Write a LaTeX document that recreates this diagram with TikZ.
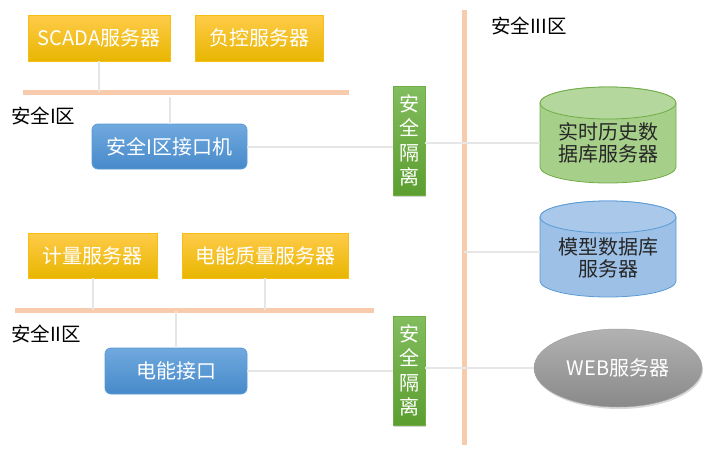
\documentclass[tikz,border=0pt]{standalone}
\usepackage{fontspec}
\setmainfont{Noto Sans CJK SC}
\usetikzlibrary{shapes.geometric,shadows}
\definecolor{ytop}{HTML}{FFCB4A}
\definecolor{ybot}{HTML}{E8B600}
\definecolor{ybord}{HTML}{F5BE10}
\definecolor{btop}{HTML}{70A9DE}
\definecolor{bbot}{HTML}{478ACA}
\definecolor{bbord}{HTML}{5B9BD5}
\definecolor{gtop}{HTML}{82BD5E}
\definecolor{gbot}{HTML}{5C9E30}
\definecolor{gbord}{HTML}{70AD47}
\definecolor{dgfill}{HTML}{A6CF8A}
\definecolor{dgtop}{HTML}{B4D79D}
\definecolor{dbfill}{HTML}{9CC0E6}
\definecolor{dbtop}{HTML}{AAC9EA}
\definecolor{wtop}{HTML}{B2B2B2}
\definecolor{wbot}{HTML}{898989}
\definecolor{barc}{HTML}{F8CBAD}
\definecolor{lgray}{HTML}{E6E6E6}
\definecolor{txtd}{HTML}{262626}
\begin{document}
\begin{tikzpicture}[x=1pt,y=-1pt,
  bigfont/.style={font=\fontsize{20}{24}\selectfont},
  ybox/.style={draw=ybord, line width=0.8pt, top color=ytop, bottom color=ybot, text=white, bigfont, inner sep=0pt, minimum height=46pt},
  bbox/.style={draw=bbord, line width=0.8pt, top color=btop, bottom color=bbot, text=white, bigfont, inner sep=0pt, minimum height=46pt, rounded corners=6pt},
  gbox/.style={draw=gbord, line width=0.6pt, top color=gtop, bottom color=gbot, text=white, font=\fontsize{20}{24.5}\selectfont, inner sep=0pt, minimum width=32pt, minimum height=109pt, align=center, drop shadow={opacity=0.35, shadow xshift=1pt, shadow yshift=-2pt}},
  dbtxt/.style={text=txtd, font=\fontsize{20}{22}\selectfont, align=center, inner sep=0pt, minimum width=136pt},
  zlabel/.style={text=black, font=\fontsize{19.5}{22}\selectfont, inner sep=0pt, anchor=west},
  bar/.style={draw=barc, line width=5pt},
  conn/.style={draw=lgray, line width=2pt}]
\useasboundingbox (0,0) rectangle (723,455);

% bars
\coordinate (b1s) at (23,92);
\coordinate (b1e) at (349,92);
\coordinate (b2s) at (15,310);
\coordinate (b2e) at (374,310);
\coordinate (vs) at (464,10);
\coordinate (ve) at (464,445);
\coordinate (g1) at (0,97);
\coordinate (g2) at (0,311);
\draw[bar] (b1s) -- (b1e);
\draw[bar] (b2s) -- (b2e);
\draw[bar] (vs) -- (ve);

% boxes zone I
\node[ybox, minimum width=142pt] (scada) at (99,38) {SCADA服务器};
\node[ybox, minimum width=128pt] (fk) at (259,38) {负控服务器};
\node[bbox, minimum width=155pt, minimum height=45pt] (jk) at (169.5,146.5) {安全I区接口机};
% zone II
\node[ybox, minimum width=129pt, minimum height=45pt] (jl) at (92.5,255.5) {计量服务器};
\node[ybox, minimum width=166pt, minimum height=45pt] (zl) at (265,255.5) {电能质量服务器};
\node[bbox, minimum width=142pt] (dn) at (176,371) {电能接口};

% isolation boxes
\node[gbox] (iso1) at (409,140.5) {安\\全\\隔\\离};
\node[gbox] (iso2) at (409,370.5) {安\\全\\隔\\离};

% cylinders
\path[draw=gbord, line width=0.8pt, fill=dgfill]
  (540,103) -- (540,167) .. controls (540,175.84) and (570.44,183) .. (608,183)
  .. controls (645.56,183) and (676,175.84) .. (676,167) -- (676,103)
  .. controls (676,94.16) and (645.56,87) .. (608,87)
  .. controls (570.44,87) and (540,94.16) .. (540,103) -- cycle;
\path[draw=gbord, line width=0.8pt, fill=dgtop] (608,103) ellipse [x radius=68, y radius=16];
\path[draw=bbord, line width=0.8pt, fill=dbfill]
  (540,217) -- (540,281) .. controls (540,289.84) and (570.44,297) .. (608,297)
  .. controls (645.56,297) and (676,289.84) .. (676,281) -- (676,217)
  .. controls (676,208.16) and (645.56,201) .. (608,201)
  .. controls (570.44,201) and (540,208.16) .. (540,217) -- cycle;
\path[draw=bbord, line width=0.8pt, fill=dbtop] (608,217) ellipse [x radius=68, y radius=16];
\node[dbtxt] (db1) at (608,143) {实时历史数\\据库服务器};
\node[dbtxt] (db2) at (608,258) {模型数据库\\服务器};

% web server
\node[ellipse, draw=wtop!90!black, line width=0.5pt, top color=wtop, bottom color=wbot, text=white, bigfont, inner sep=0pt, minimum width=168pt, minimum height=78pt, drop shadow={opacity=0.3, shadow xshift=1pt, shadow yshift=-2pt}] (web) at (618,368) {WEB服务器};

% labels
\node[zlabel] (z1) at (11,116) {安全I区};
\node[zlabel] (z2) at (11,334) {安全II区};
\node[zlabel] (z3) at (491,26) {安全III区};

% connectors
\draw[conn] (scada.south) -- (scada.south |- b1s);
\draw[conn] (jk.north) -- (jk.north |- g1);
\draw[conn] (jl.south) -- (jl.south |- b2s);
\draw[conn] (zl.south) -- (zl.south |- b2s);
\draw[conn] (dn.north) -- (dn.north |- g2);
\draw[conn] (jk.east) -- (iso1.west |- jk.east);
\draw[conn] (iso1.east |- db1.west) -- (db1.west);
\draw[conn] (dn.east) -- (iso2.west |- dn.east);
\draw[conn] (iso2.east |- web.west) -- (web.west);
\coordinate (v2) at (464,252);
\draw[conn] (v2) -- (v2 -| db2.west);
\end{tikzpicture}
\end{document}
